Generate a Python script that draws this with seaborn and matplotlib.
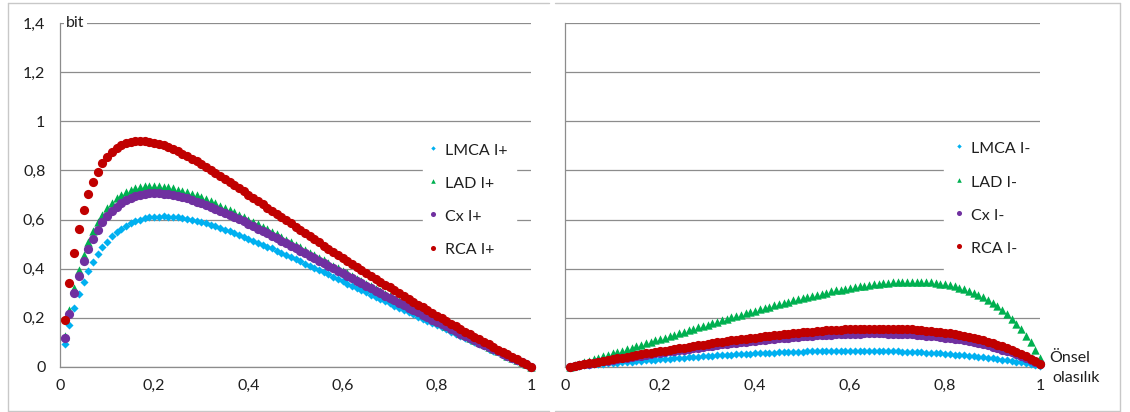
import numpy as np
import matplotlib
matplotlib.use("Agg")
import matplotlib.pyplot as plt
from matplotlib.lines import Line2D
import seaborn as sns

# ---------------- data ----------------
prior = np.round(np.linspace(0.01, 1.00, 100), 2)   # Önsel olasılık (x positions)

lmca_pos = [0.092, 0.170, 0.238, 0.296, 0.346, 0.389, 0.426, 0.459, 0.486, 0.510,
            0.531, 0.548, 0.563, 0.575, 0.585, 0.593, 0.600, 0.605, 0.609, 0.611,
            0.612, 0.613, 0.612, 0.611, 0.609, 0.606, 0.603, 0.599, 0.594, 0.589,
            0.584, 0.578, 0.572, 0.566, 0.559, 0.552, 0.545, 0.538, 0.530, 0.522,
            0.514, 0.506, 0.498, 0.490, 0.482, 0.473, 0.464, 0.456, 0.447, 0.438,
            0.429, 0.420, 0.412, 0.403, 0.394, 0.385, 0.376, 0.367, 0.358, 0.348,
            0.339, 0.330, 0.321, 0.312, 0.303, 0.294, 0.285, 0.276, 0.267, 0.258,
            0.249, 0.240, 0.231, 0.222, 0.213, 0.204, 0.195, 0.187, 0.178, 0.169,
            0.160, 0.152, 0.143, 0.134, 0.126, 0.117, 0.108, 0.100, 0.091, 0.083,
            0.074, 0.066, 0.058, 0.049, 0.041, 0.033, 0.025, 0.016, 0.008, 0.000]

lad_pos = [0.127, 0.232, 0.320, 0.394, 0.456, 0.508, 0.552, 0.589, 0.620, 0.646,
           0.668, 0.686, 0.700, 0.712, 0.721, 0.727, 0.732, 0.735, 0.737, 0.737,
           0.736, 0.734, 0.731, 0.727, 0.722, 0.717, 0.711, 0.704, 0.698, 0.690,
           0.683, 0.674, 0.666, 0.657, 0.648, 0.639, 0.630, 0.620, 0.610, 0.600,
           0.590, 0.580, 0.570, 0.560, 0.549, 0.539, 0.528, 0.518, 0.507, 0.497,
           0.486, 0.476, 0.465, 0.454, 0.444, 0.433, 0.423, 0.412, 0.401, 0.391,
           0.380, 0.370, 0.359, 0.349, 0.338, 0.328, 0.318, 0.307, 0.297, 0.287,
           0.277, 0.267, 0.256, 0.246, 0.236, 0.226, 0.216, 0.206, 0.197, 0.187,
           0.177, 0.167, 0.158, 0.148, 0.138, 0.129, 0.119, 0.110, 0.100, 0.091,
           0.082, 0.073, 0.063, 0.054, 0.045, 0.036, 0.027, 0.018, 0.009, 0.000]

cx_pos = [0.118, 0.216, 0.299, 0.369, 0.429, 0.479, 0.521, 0.557, 0.588, 0.613,
          0.635, 0.652, 0.667, 0.679, 0.688, 0.695, 0.701, 0.704, 0.707, 0.707,
          0.707, 0.705, 0.703, 0.700, 0.696, 0.691, 0.686, 0.680, 0.673, 0.667,
          0.660, 0.652, 0.644, 0.636, 0.628, 0.619, 0.610, 0.601, 0.592, 0.582,
          0.573, 0.563, 0.554, 0.544, 0.534, 0.524, 0.514, 0.504, 0.494, 0.483,
          0.473, 0.463, 0.453, 0.443, 0.432, 0.422, 0.412, 0.402, 0.391, 0.381,
          0.371, 0.361, 0.351, 0.340, 0.330, 0.320, 0.310, 0.300, 0.290, 0.280,
          0.270, 0.261, 0.251, 0.241, 0.231, 0.221, 0.212, 0.202, 0.192, 0.183,
          0.173, 0.164, 0.154, 0.145, 0.135, 0.126, 0.117, 0.108, 0.098, 0.089,
          0.080, 0.071, 0.062, 0.053, 0.044, 0.035, 0.026, 0.018, 0.009, 0.000]

rca_pos = [0.192, 0.343, 0.464, 0.561, 0.639, 0.703, 0.754, 0.795, 0.829, 0.855,
           0.876, 0.892, 0.904, 0.912, 0.918, 0.921, 0.922, 0.921, 0.918, 0.914,
           0.909, 0.902, 0.895, 0.887, 0.878, 0.869, 0.859, 0.848, 0.837, 0.826,
           0.814, 0.802, 0.790, 0.778, 0.766, 0.753, 0.740, 0.728, 0.715, 0.702,
           0.689, 0.676, 0.663, 0.649, 0.636, 0.623, 0.610, 0.597, 0.584, 0.571,
           0.558, 0.545, 0.532, 0.520, 0.507, 0.494, 0.481, 0.469, 0.456, 0.444,
           0.431, 0.419, 0.407, 0.395, 0.382, 0.370, 0.358, 0.346, 0.334, 0.323,
           0.311, 0.299, 0.288, 0.276, 0.265, 0.253, 0.242, 0.231, 0.220, 0.208,
           0.197, 0.187, 0.176, 0.165, 0.154, 0.143, 0.133, 0.122, 0.111, 0.101,
           0.091, 0.080, 0.070, 0.060, 0.050, 0.040, 0.030, 0.020, 0.010, 0.000]

lmca_neg = [0.000, 0.002, 0.003, 0.005, 0.007, 0.009, 0.010, 0.012, 0.014, 0.015,
            0.017, 0.018, 0.020, 0.021, 0.023, 0.025, 0.026, 0.027, 0.029, 0.030,
            0.032, 0.033, 0.035, 0.036, 0.037, 0.039, 0.040, 0.041, 0.042, 0.044,
            0.045, 0.046, 0.047, 0.048, 0.049, 0.050, 0.051, 0.052, 0.053, 0.054,
            0.055, 0.056, 0.057, 0.057, 0.058, 0.059, 0.059, 0.060, 0.061, 0.061,
            0.062, 0.062, 0.063, 0.063, 0.063, 0.064, 0.064, 0.064, 0.064, 0.064,
            0.064, 0.064, 0.064, 0.064, 0.064, 0.063, 0.063, 0.063, 0.062, 0.062,
            0.061, 0.060, 0.060, 0.059, 0.058, 0.057, 0.056, 0.055, 0.054, 0.052,
            0.051, 0.049, 0.048, 0.046, 0.044, 0.043, 0.041, 0.038, 0.036, 0.034,
            0.032, 0.029, 0.026, 0.024, 0.021, 0.018, 0.015, 0.011, 0.007, 0.004]

lad_neg = [0.000, 0.006, 0.012, 0.018, 0.024, 0.030, 0.036, 0.042, 0.048, 0.054,
           0.060, 0.065, 0.071, 0.077, 0.083, 0.089, 0.095, 0.101, 0.107, 0.113,
           0.119, 0.125, 0.131, 0.137, 0.143, 0.149, 0.154, 0.160, 0.166, 0.172,
           0.178, 0.183, 0.189, 0.195, 0.201, 0.206, 0.212, 0.217, 0.223, 0.228,
           0.234, 0.239, 0.245, 0.250, 0.255, 0.260, 0.265, 0.270, 0.275, 0.280,
           0.285, 0.289, 0.294, 0.298, 0.302, 0.307, 0.311, 0.314, 0.318, 0.322,
           0.325, 0.328, 0.331, 0.334, 0.337, 0.339, 0.341, 0.343, 0.344, 0.346,
           0.347, 0.347, 0.347, 0.347, 0.347, 0.346, 0.344, 0.342, 0.339, 0.336,
           0.332, 0.328, 0.322, 0.316, 0.309, 0.301, 0.293, 0.283, 0.272, 0.259,
           0.246, 0.230, 0.214, 0.195, 0.175, 0.152, 0.127, 0.100, 0.070, 0.037]

cx_neg = [0.000, 0.003, 0.006, 0.009, 0.012, 0.016, 0.019, 0.022, 0.025, 0.028,
          0.031, 0.034, 0.037, 0.040, 0.042, 0.045, 0.048, 0.051, 0.054, 0.057,
          0.059, 0.062, 0.065, 0.068, 0.070, 0.073, 0.076, 0.078, 0.081, 0.083,
          0.086, 0.088, 0.091, 0.093, 0.095, 0.097, 0.100, 0.102, 0.104, 0.106,
          0.108, 0.110, 0.112, 0.114, 0.116, 0.117, 0.119, 0.121, 0.122, 0.124,
          0.125, 0.127, 0.128, 0.129, 0.130, 0.131, 0.132, 0.133, 0.134, 0.134,
          0.135, 0.135, 0.136, 0.136, 0.136, 0.136, 0.136, 0.135, 0.135, 0.134,
          0.134, 0.133, 0.132, 0.130, 0.129, 0.127, 0.126, 0.124, 0.121, 0.119,
          0.117, 0.114, 0.111, 0.108, 0.104, 0.100, 0.096, 0.091, 0.087, 0.082,
          0.076, 0.070, 0.064, 0.058, 0.051, 0.044, 0.036, 0.028, 0.019, 0.010]

rca_neg = [0.000, 0.003, 0.007, 0.010, 0.014, 0.017, 0.021, 0.024, 0.027, 0.031,
           0.034, 0.037, 0.041, 0.044, 0.047, 0.050, 0.054, 0.057, 0.060, 0.063,
           0.066, 0.069, 0.072, 0.075, 0.078, 0.081, 0.084, 0.087, 0.090, 0.093,
           0.096, 0.099, 0.101, 0.104, 0.107, 0.109, 0.112, 0.114, 0.117, 0.119,
           0.122, 0.124, 0.126, 0.128, 0.130, 0.132, 0.134, 0.136, 0.138, 0.140,
           0.142, 0.143, 0.145, 0.146, 0.148, 0.149, 0.150, 0.151, 0.152, 0.153,
           0.154, 0.154, 0.155, 0.155, 0.155, 0.155, 0.155, 0.155, 0.155, 0.154,
           0.154, 0.153, 0.152, 0.150, 0.149, 0.147, 0.145, 0.143, 0.141, 0.139,
           0.136, 0.132, 0.129, 0.125, 0.121, 0.117, 0.112, 0.107, 0.102, 0.096,
           0.090, 0.083, 0.076, 0.069, 0.060, 0.052, 0.043, 0.033, 0.023, 0.012]

labels_pos = ["LMCA I+", "LAD I+", "Cx I+", "RCA I+"]
labels_neg = ["LMCA I-", "LAD I-", "Cx I-", "RCA I-"]
y_ticks = [0, 0.2, 0.4, 0.6, 0.8, 1.0, 1.2, 1.4]
y_ticklabels = ["0", "0,2", "0,4", "0,6", "0,8", "1", "1,2", "1,4"]
x_ticks = [0, 0.2, 0.4, 0.6, 0.8, 1.0]
x_ticklabels = ["0", "0,2", "0,4", "0,6", "0,8", "1"]

# ---------------- style ----------------
sns.set_style("white")
plt.rcParams['font.family'] = ['Lato', 'DejaVu Sans']
TXT = "#1f1f1f"
GRID = "#8c8c8c"
FS = 11.5

colors = ["#00B0F0", "#00B050", "#7030A0", "#C00000"]
markers = ["D", "^", "o", "o"]
sizes = [17, 36, 44, 44]

W, H = 1130, 412
fig = plt.figure(figsize=(W / 100, H / 100), dpi=100)

def px_axes(x0, x1, y_top, y_bot):
    return fig.add_axes([x0 / W, 1 - y_bot / H, (x1 - x0) / W, (y_bot - y_top) / H])

axL = px_axes(60, 531, 23.3, 366.7)
axR = px_axes(565, 1040, 23.3, 366.7)

def style_axis(ax, show_ylabels):
    ax.set_xlim(0, 1)
    ax.set_ylim(0, 1.4)
    ax.set_yticks(y_ticks)
    ax.set_yticklabels(y_ticklabels if show_ylabels else [""] * len(y_ticks))
    ax.set_xticks(x_ticks)
    ax.set_xticklabels(x_ticklabels)
    ax.yaxis.grid(True, color=GRID, lw=0.9)
    ax.xaxis.grid(False)
    ax.set_axisbelow(True)
    for s in ["top", "right"]:
        ax.spines[s].set_visible(False)
    for s in ["left", "bottom"]:
        ax.spines[s].set_color(GRID)
        ax.spines[s].set_linewidth(0.9)
    ax.tick_params(axis="both", which="both", length=4.5, width=0.9, color=GRID,
                   labelsize=FS, labelcolor=TXT, direction="out")
    ax.tick_params(axis="y", pad=6)
    ax.tick_params(axis="x", pad=4)
    ax.set_xlabel("")
    ax.set_ylabel("")

def draw(ax, series, labels):
    for ys, lab, c, m, s in zip(series, labels, colors, markers, sizes):
        sns.scatterplot(x=prior, y=ys, ax=ax, color=c, marker=m, s=s,
                        linewidth=0, label=lab, clip_on=False, zorder=3)

draw(axL, [lmca_pos, lad_pos, cx_pos, rca_pos], labels_pos)
draw(axR, [lmca_neg, lad_neg, cx_neg, rca_neg], labels_neg)
style_axis(axL, True)
style_axis(axR, False)

def place_legend(ax, x_px, y_px, bpad):
    h, l = ax.get_legend_handles_labels()
    leg = ax.legend(h, l, loc="upper left",
                    bbox_to_anchor=(x_px / W, 1 - y_px / H), bbox_transform=fig.transFigure,
                    frameon=True, facecolor="white", edgecolor="white", framealpha=1,
                    fancybox=False, borderaxespad=0, borderpad=bpad,
                    handlelength=0.3, handleheight=1.4, handletextpad=0.6,
                    labelspacing=0.93, markerscale=0.55, fontsize=FS,
                    labelcolor=TXT)
    leg.set_zorder(5)
    return leg

place_legend(axL, 423, 132, 0.5)
place_legend(axR, 944, 126, 0.8)

axL.annotate("bit", xy=(0, 1.4), xycoords=("axes fraction", "data"),
             xytext=(6, 0), textcoords="offset pixels", ha="left", va="center",
             fontsize=FS, color=TXT, zorder=4,
             bbox=dict(boxstyle="square,pad=0.15", fc="white", ec="none"))

fig.text(1069.5 / W, 1 - 358 / H, "Önsel", ha="center", va="center", fontsize=FS, color=TXT)
fig.text(1076.5 / W, 1 - 378 / H, "olasılık", ha="center", va="center", fontsize=FS, color=TXT)

# chart frames (two Excel chart areas side by side)
FR = "#c8c8c8"
for (x0, x1) in [(8, 549), (555, 1120)]:
    for yy in (3, 410.5):
        fig.add_artist(Line2D([x0 / W, x1 / W], [1 - yy / H] * 2, transform=fig.transFigure,
                              color=FR, lw=1))
for xx in (8, 1120):
    fig.add_artist(Line2D([xx / W] * 2, [1 - 3 / H, 1 - 410.5 / H], transform=fig.transFigure,
                          color=FR, lw=1))

fig.savefig("out.png", dpi=100)
